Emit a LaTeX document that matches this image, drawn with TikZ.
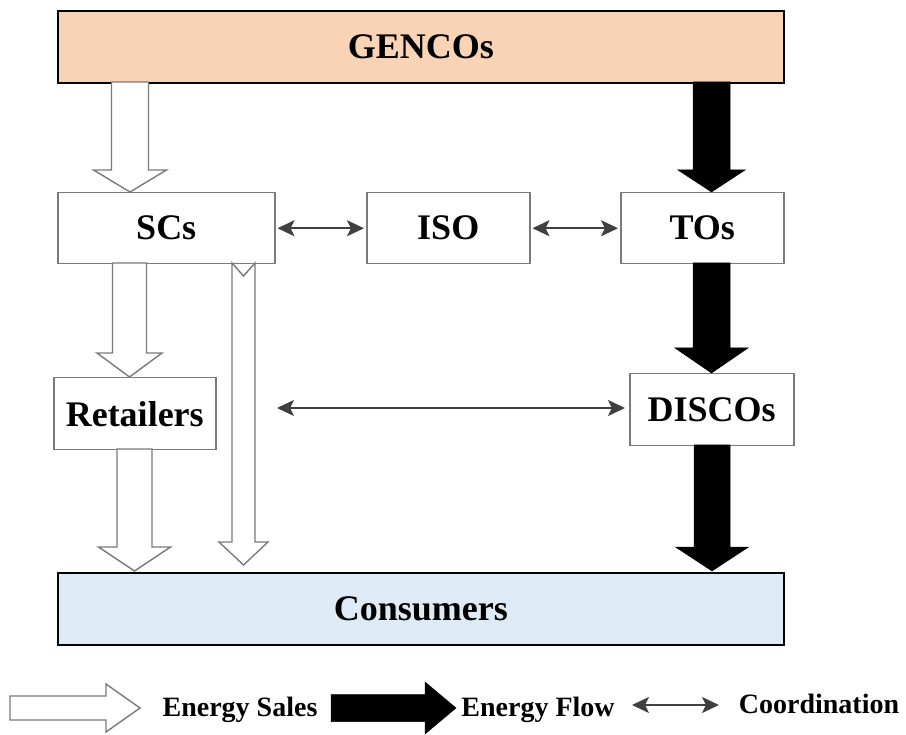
\documentclass[tikz,border=0pt]{standalone}
\usepackage{fontspec}
\setmainfont{Liberation Serif}
\usetikzlibrary{arrows.meta}
\definecolor{peach}{HTML}{F8D3B6}
\definecolor{paleblue}{HTML}{DEEAF5}
\definecolor{boxgray}{HTML}{7A7A7A}
\definecolor{coord}{HTML}{404040}
\tikzset{
  box/.style={draw=boxgray, line width=1.5pt, fill=white, anchor=north west, inner sep=0pt,
    font=\fontsize{36}{40}\selectfont\bfseries},
  bigbox/.style={box, draw=black, line width=1.8pt},
  hollow/.style={draw=boxgray, line width=1.4pt, fill=white, line join=miter},
  solid/.style={draw=black, fill=black, line width=0.5pt},
  coordtip/.style={Stealth[length=17pt,width=16pt,inset=4pt]},
  coordarrow/.style={draw=coord, line width=2pt, {Stealth[length=17pt,width=16pt,inset=4pt]}-{Stealth[length=17pt,width=16pt,inset=4pt]}},
  legendtext/.style={font=\fontsize{28}{32}\selectfont\bfseries, inner sep=0pt}
}
% #1 style, #2 centre x, #3 shaft half width, #4 head half width, #5 top y, #6 head start y, #7 tip y
\newcommand{\vblockarrow}[7]{%
  \draw[#1] ({#2-#3},#5) -- ({#2+#3},#5) -- ({#2+#3},#6) -- ({#2+#4},#6) -- (#2,#7)
    -- ({#2-#4},#6) -- ({#2-#3},#6) -- cycle;}
% #1 style, #2 centre y, #3 shaft half height, #4 head half height, #5 left x, #6 head start x, #7 tip x
\newcommand{\hblockarrow}[7]{%
  \draw[#1] (#5,{#2-#3}) -- (#6,{#2-#3}) -- (#6,{#2-#4}) -- (#7,#2) -- (#6,{#2+#4})
    -- (#6,{#2+#3}) -- (#5,{#2+#3}) -- cycle;}
\begin{document}
\begin{tikzpicture}[x=1pt,y=-1pt]
\useasboundingbox (0,0) rectangle (906,735);
% boxes
\node[bigbox, fill=peach, minimum width=726pt, minimum height=72pt] (gen) at (57,10) {GENCOs};
\node[box, minimum width=217pt, minimum height=71pt] (sc) at (57,192) {SCs};
\node[box, minimum width=163pt, minimum height=71pt] (iso) at (366,192) {ISO};
\node[box, minimum width=163pt, minimum height=71pt] (to) at (620,192) {TOs};
\node[box, minimum width=162pt, minimum height=72pt] (ret) at (53,377) {Retailers};
\node[box, minimum width=164pt, minimum height=72pt] (disco) at (629,373) {DISCOs};
\node[bigbox, fill=paleblue, minimum width=726pt, minimum height=72pt] (con) at (57,572) {Consumers};
% energy sales (hollow)
\vblockarrow{hollow}{130}{18.5}{36.5}{82}{170}{192}
\vblockarrow{hollow}{129.5}{17}{32.5}{263}{353}{377}
\vblockarrow{hollow}{134.5}{17.5}{36}{449}{547}{571}
\draw[hollow] (232,263) -- (243.5,276) -- (255,263) -- (255,542) -- (268,542) -- (243.5,565)
  -- (219,542) -- (232,542) -- cycle;
% energy flow (solid)
\vblockarrow{solid}{711.5}{18.5}{33.5}{82}{170}{192}
\vblockarrow{solid}{711.5}{18.5}{36.5}{263}{348}{373}
\vblockarrow{solid}{712}{18}{36.5}{445}{547}{571}
% coordination
\draw[coordarrow] ([xshift=2pt]sc.east) -- ([xshift=-2pt]iso.west);
\draw[coordarrow] ([xshift=2pt]iso.east) -- ([xshift=-2pt]to.west);
\coordinate (rc) at (277,408);
\draw[coordarrow] (rc) -- ([xshift=-4pt]rc -| disco.west);
% legend
\hblockarrow{hollow}{708}{12}{24}{10}{106}{140}
\node[legendtext] (ls) at (240,710) {Energy Sales};
\hblockarrow{solid}{708}{13.5}{26}{331}{425}{456}
\node[legendtext] (lf) at (538,710) {Energy Flow};
\coordinate (c1) at (632,705);
\coordinate (c2) at (719,705);
\draw[coordarrow] (c1) -- (c2);
\node[legendtext] (lc) at (819,704) {Coordination};
\end{tikzpicture}
\end{document}
